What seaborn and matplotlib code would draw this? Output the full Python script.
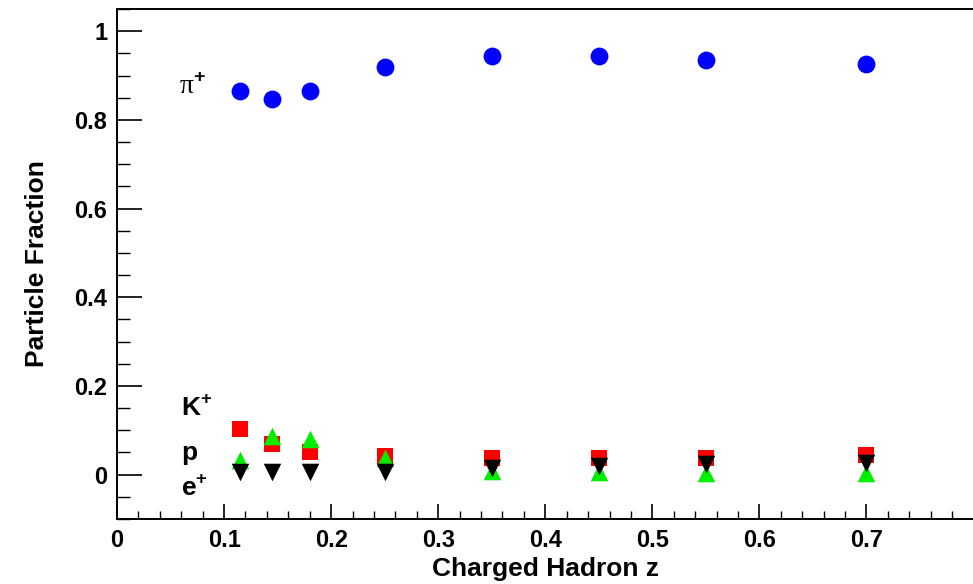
import numpy as np
import matplotlib
matplotlib.use("Agg")
import matplotlib.pyplot as plt
import seaborn as sns
from matplotlib.ticker import MultipleLocator

# z bins and particle fractions
z = [0.115, 0.145, 0.18, 0.25, 0.35, 0.45, 0.55, 0.70]
pion = [0.864, 0.846, 0.864, 0.919, 0.944, 0.944, 0.935, 0.926]
kaon = [0.104, 0.068, 0.052, 0.043, 0.038, 0.038, 0.038, 0.045]
proton = [0.032, 0.088, 0.081, 0.038, 0.009, 0.005, 0.003, 0.003]
positron = [0.005, 0.005, 0.005, 0.007, 0.014, 0.020, 0.023, 0.027]

sns.set_style("ticks")
plt.rcParams['font.family'] = ['Liberation Sans', 'DejaVu Sans']
plt.rcParams['mathtext.fontset'] = 'custom'
plt.rcParams['mathtext.rm'] = 'Liberation Sans:bold'
plt.rcParams['mathtext.bf'] = 'Liberation Sans:bold'
plt.rcParams['text.color'] = 'black'
plt.rcParams['axes.labelcolor'] = 'black'
plt.rcParams['xtick.color'] = 'black'
plt.rcParams['ytick.color'] = 'black'
plt.rcParams['axes.edgecolor'] = 'black'

fig = plt.figure(figsize=(9.73, 5.84), dpi=100)
ax = fig.add_axes([117 / 973, 1 - 519 / 584, 1 - 117 / 973, 510 / 584])

# one scatter per species, drawn in back-to-front order like the original
sns.scatterplot(x=z, y=kaon, marker='s', color='#ff0000', s=140, linewidth=0, ax=ax)
sns.scatterplot(x=z, y=proton, marker='^', color='#00ee00', s=160, linewidth=0, ax=ax)
sns.scatterplot(x=z, y=positron, marker='v', color='black', s=160, linewidth=0, ax=ax)
sns.scatterplot(x=z, y=pion, marker='o', color='#0000ff', s=165, linewidth=0, ax=ax)

ax.set_xlim(0, 0.7995)
ax.set_ylim(-0.1, 1.05)
ax.xaxis.set_major_locator(MultipleLocator(0.1))
ax.xaxis.set_minor_locator(MultipleLocator(0.02))
ax.yaxis.set_major_locator(MultipleLocator(0.2))
ax.yaxis.set_minor_locator(MultipleLocator(0.05))
ax.xaxis.set_major_formatter(plt.FuncFormatter(lambda v, p: '0' if abs(v) < 1e-9 else f'{v:.1f}'))
ax.yaxis.set_major_formatter(plt.FuncFormatter(lambda v, p: '0' if abs(v) < 1e-9 else ('1' if abs(v - 1) < 1e-9 else f'{v:.1f}')))

ax.tick_params(axis='x', which='major', direction='in', length=11, width=1.2, labelsize=17, pad=7)
ax.tick_params(axis='x', which='minor', direction='in', length=5.5, width=1)
ax.tick_params(axis='y', which='major', direction='in', length=18, width=1.2, labelsize=17, pad=7)
ax.tick_params(axis='y', which='minor', direction='in', length=9, width=1)
for lab in ax.get_xticklabels() + ax.get_yticklabels():
    lab.set_fontweight('bold')

for side in ['left', 'bottom', 'top']:
    ax.spines[side].set_linewidth(1.4)
ax.spines['right'].set_visible(False)

ax.set_xlabel('Charged Hadron z', fontsize=19, fontweight='bold', labelpad=4)
ax.set_ylabel('Particle Fraction', fontsize=19, fontweight='bold', labelpad=18)

ax.text(0.058, 0.874, 'π$^{\\mathbf{+}}$', fontsize=20, family=['Liberation Serif', 'DejaVu Serif'],
        va='center', ha='left')
ax.text(0.06, 0.152, 'K$^{\\mathbf{+}}$', fontsize=19, fontweight='bold', va='center', ha='left')
ax.text(0.06, 0.048, 'p', fontsize=19, fontweight='bold', va='center', ha='left')
ax.text(0.06, -0.03, 'e$^{\\mathbf{+}}$', fontsize=19, fontweight='bold', va='center', ha='left')

fig.savefig('out.png', dpi=100)
